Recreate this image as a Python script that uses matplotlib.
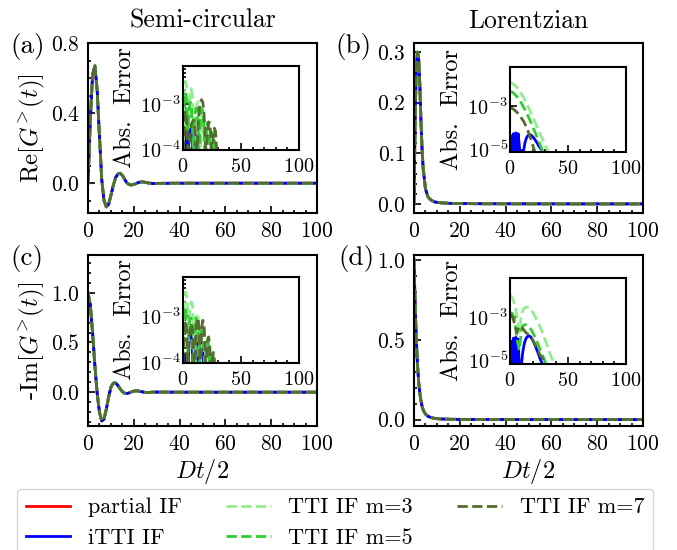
import matplotlib
matplotlib.use('Agg')
import matplotlib.pyplot as plt
from matplotlib.ticker import AutoMinorLocator, MultipleLocator, FixedLocator, NullLocator
import numpy as np

plt.rcParams['font.family'] = ['cmr10', 'DejaVu Serif']
plt.rcParams['mathtext.fontset'] = 'cm'
plt.rcParams['axes.formatter.use_mathtext'] = True
plt.rcParams['axes.unicode_minus'] = False

# ---------------- data: main curves ----------------
t_sc = [0, 1, 2, 3, 4, 5, 6, 7, 8, 9, 10, 11, 12, 13, 14, 15, 16, 17, 18, 19, 20,
        21, 22, 23, 24, 25, 26, 27, 28, 29, 30, 40, 50, 60, 70, 80, 90, 100]
re_sc = [0.0, 0.36, 0.62, 0.67, 0.53, 0.27, 0.02, -0.10, -0.135, -0.12, -0.07, -0.015,
         0.03, 0.052, 0.057, 0.045, 0.022, 0.002, -0.008, -0.010, -0.007, -0.002, 0.004,
         0.007, 0.007, 0.005, 0.002, 0.0, -0.001, -0.002, -0.001, 0.0, 0.0, 0.0, 0.0, 0.0, 0.0, 0.0]
im_sc = [1.0, 0.88, 0.60, 0.27, -0.01, -0.20, -0.29, -0.27, -0.17, -0.05, 0.05, 0.09,
         0.095, 0.07, 0.035, 0.005, -0.010, -0.013, -0.007, 0.003, 0.011, 0.014, 0.012,
         0.007, 0.002, -0.002, -0.003, -0.002, 0.0, 0.001, 0.001, 0.0, 0.0, 0.0, 0.0, 0.0, 0.0, 0.0]

t_lz = [0, 0.5, 1, 1.5, 2, 2.5, 3, 3.5, 4, 5, 6, 7, 8, 9, 10, 12, 14, 16, 20, 30, 40, 60, 80, 100]
re_lz = [0.0, 0.17, 0.27, 0.30, 0.29, 0.24, 0.17, 0.11, 0.07, 0.03, 0.015, 0.009, 0.006,
         0.004, 0.003, 0.002, 0.0015, 0.001, 0.0007, 0.0003, 0.0002, 0.0001, 0.0, 0.0]
im_lz = [1.0, 0.72, 0.50, 0.35, 0.24, 0.17, 0.12, 0.085, 0.06, 0.035, 0.022, 0.015, 0.011,
         0.008, 0.006, 0.004, 0.003, 0.002, 0.0015, 0.001, 0.0007, 0.0004, 0.0003, 0.0002]

# ---------------- data: absolute errors (insets) ----------------
te_sc = list(range(0, 33))
err_a = {
    'iTTI IF': [1e-5, 1.5e-4, 2.5e-4, 1.5e-4, 3e-5, 1.8e-4, 3.5e-4, 3e-4, 1.2e-4, 2e-5, 1.2e-4,
                2e-4, 1.5e-4, 4e-5, 1e-5, 5e-5, 9e-5, 7e-5, 2e-5, 1e-5, 1e-5, 1e-5, 1e-5, 1e-5,
                1e-5, 1e-5, 1e-5, 1e-5, 1e-5, 1e-5, 1e-5, 1e-5, 1e-5],
    'TTI IF m=3': [3e-5, 2.0e-3, 3.2e-3, 2.6e-3, 1.0e-3, 3e-4, 1.4e-3, 2.2e-3, 1.6e-3, 5e-4, 6e-5,
                   5e-4, 1.0e-3, 1.1e-3, 6e-4, 1e-4, 3e-4, 5.5e-4, 4.5e-4, 1.5e-4, 3e-5, 2e-4,
                   3.2e-4, 2.6e-4, 1e-4, 2e-5, 1.2e-4, 1.6e-4, 1.2e-4, 4e-5, 1e-5, 1e-5, 1e-5],
    'TTI IF m=5': [2e-5, 1.0e-3, 1.8e-3, 1.2e-3, 2.5e-4, 5e-4, 1.1e-3, 1.0e-3, 4e-4, 5e-5, 4e-4,
                   8e-4, 8e-4, 3.5e-4, 4e-5, 4.5e-4, 8e-4, 7e-4, 3e-4, 3e-5, 2e-4, 3.8e-4,
                   3.5e-4, 1.5e-4, 2e-5, 1.4e-4, 2.4e-4, 2e-4, 8e-5, 1e-5, 1e-5, 1e-5, 1e-5],
    'TTI IF m=7': [2e-5, 4e-4, 7e-4, 5e-4, 1.2e-4, 2e-5, 1.6e-4, 3.2e-4, 4e-4, 4.4e-4, 3.4e-4,
                   1.5e-4, 3e-5, 3e-4, 8e-4, 1.1e-3, 1.25e-3, 1.1e-3, 7e-4, 2e-4, 3e-5, 2.6e-4,
                   4e-4, 3.8e-4, 2e-4, 3e-5, 1.8e-4, 2.9e-4, 2.5e-4, 1e-4, 2e-5, 1e-5, 1e-5],
}
err_c = {
    'iTTI IF': [1e-5, 1e-4, 1.5e-4, 1e-4, 2e-5, 2.5e-4, 5e-4, 4.5e-4, 2e-4, 2e-5, 2.5e-4,
                4.5e-4, 3.5e-4, 1e-4, 1e-5, 1.5e-4, 2.5e-4, 2e-4, 6e-5, 1e-5, 1e-5, 1e-5, 1e-5,
                1e-5, 1e-5, 1e-5, 1e-5, 1e-5, 1e-5, 1e-5, 1e-5, 1e-5, 1e-5],
    'TTI IF m=3': [3e-4, 2.4e-3, 3.3e-3, 2.8e-3, 1.5e-3, 2e-4, 1.2e-3, 2.0e-3, 1.8e-3, 8e-4, 5e-5,
                   6e-4, 1.0e-3, 9e-4, 3e-4, 1e-4, 5e-4, 6e-4, 3.5e-4, 5e-5, 2.2e-4, 3.5e-4,
                   2.5e-4, 6e-5, 8e-5, 1.8e-4, 1.8e-4, 8e-5, 2e-5, 6e-5, 7e-5, 3e-5, 1e-5],
    'TTI IF m=5': [2e-4, 1.2e-3, 1.6e-3, 1.0e-3, 1.5e-4, 4e-4, 9e-4, 9e-4, 4e-4, 4e-5, 5e-4,
                   9e-4, 8e-4, 3e-4, 4e-5, 4e-4, 6e-4, 5e-4, 2e-4, 3e-5, 2e-4, 3e-4, 2.2e-4,
                   6e-5, 6e-5, 1.5e-4, 1.5e-4, 6e-5, 1e-5, 1e-5, 1e-5, 1e-5, 1e-5],
    'TTI IF m=7': [1e-4, 6e-4, 8e-4, 5e-4, 8e-5, 2e-4, 5e-4, 7e-4, 6e-4, 2e-4, 3e-5, 4e-4,
                   8e-4, 9e-4, 5e-4, 5e-5, 5e-4, 8e-4, 7e-4, 2.5e-4, 3e-5, 2.5e-4, 3.5e-4,
                   2.5e-4, 5e-5, 1e-4, 1.6e-4, 1.2e-4, 3e-5, 1e-5, 1e-5, 1e-5, 1e-5],
}

te_lz = [0, 2, 4, 6, 8, 10, 12, 14, 16, 18, 20, 22, 24, 26, 28, 30, 32, 34, 36, 38, 40]
te_lz_b = list(range(0, 31))
err_b = {
    'iTTI IF': [2e-6, 4e-5, 2e-6, 5e-5, 3e-6, 5.5e-5, 4e-6, 5e-5, 1.5e-5, 3e-6, 3e-6, 5e-6,
                1e-5, 2e-5, 3e-5, 3.8e-5, 4.3e-5, 4.5e-5, 4.3e-5, 3.9e-5, 3.4e-5, 2.9e-5,
                2.4e-5, 2e-5, 1.6e-5, 1.3e-5, 1.1e-5, 9e-6, 7e-6, 5e-6, 4e-6],
    'TTI IF m=3': [1.26e-2, 1.12e-2, 9.3e-3, 7.2e-3, 5e-3, 3.5e-3, 2.3e-3, 1.4e-3, 8.3e-4,
                   4.7e-4, 2.7e-4, 1.5e-4, 8.7e-5, 5e-5, 2.8e-5, 1.6e-5, 9e-6, 5e-6, 3e-6, 2e-6, 1e-6],
    'TTI IF m=5': [4.7e-3, 4.4e-3, 3.5e-3, 2.7e-3, 1.9e-3, 1.3e-3, 8.1e-4, 5e-4, 3e-4, 1.7e-4,
                   9.5e-5, 5.2e-5, 2.8e-5, 1.5e-5, 8e-6, 4e-6, 2e-6, 1e-6, 1e-6, 1e-6, 1e-6],
    'TTI IF m=7': [7.9e-4, 7.6e-4, 6.3e-4, 5e-4, 3.8e-4, 2.6e-4, 1.8e-4, 1.05e-4, 5.6e-5,
                   2.8e-5, 1.26e-5, 5.6e-6, 2e-6, 1e-6, 1e-6, 1e-6, 1e-6, 1e-6, 1e-6, 1e-6, 1e-6],
}
err_d = {
    'iTTI IF': [2e-6, 8e-5, 2e-6, 1.1e-4, 3e-6, 1.2e-4, 5e-6, 1e-4, 5e-6, 2e-6, 8e-6, 2.5e-5,
                5e-5, 8e-5, 1.1e-4, 1.3e-4, 1.4e-4, 1.35e-4, 1.2e-4, 1e-4, 8e-5, 6e-5, 4.5e-5,
                3.3e-5, 2.4e-5, 1.7e-5, 1.2e-5, 9e-6, 7e-6, 5e-6, 4e-6],
    'TTI IF m=3': [1.1e-2, 8e-3, 4e-3, 1.2e-3, 2e-4, 1.5e-3, 2.6e-3, 3e-3, 2.8e-3, 2.2e-3,
                   1.6e-3, 1e-3, 6e-4, 3.5e-4, 2e-4, 1e-4, 5e-5, 2.5e-5, 1.3e-5, 7e-6, 3e-6],
    'TTI IF m=5': [1.6e-3, 1.5e-3, 8e-4, 1e-4, 3e-5, 3e-4, 4.5e-4, 4.5e-4, 3.8e-4, 2.8e-4,
                   1.8e-4, 1.1e-4, 6e-5, 3.3e-5, 1.8e-5, 1e-5, 5e-6, 2e-6, 1e-6, 1e-6, 1e-6],
    'TTI IF m=7': [1.4e-3, 1.1e-3, 5e-4, 2e-4, 4e-4, 3.5e-4, 2.6e-4, 1.9e-4, 1.6e-4, 1.2e-4,
                   8e-5, 5e-5, 3e-5, 1.8e-5, 1.3e-5, 1e-5, 6e-6, 3e-6, 1e-6, 1e-6, 1e-6],
}

lz_err_ticks = [1e-7, 1e-5, 1e-3, 1e-1]

methods = ['partial IF', 'iTTI IF', 'TTI IF m=3', 'TTI IF m=5', 'TTI IF m=7']
colors = {'partial IF': '#ff0000', 'iTTI IF': '#0000ff', 'TTI IF m=3': '#90ee90',
          'TTI IF m=5': '#32cd32', 'TTI IF m=7': '#556b2f'}
styles = {'partial IF': '-', 'iTTI IF': '-', 'TTI IF m=3': '--', 'TTI IF m=5': '--',
          'TTI IF m=7': '--'}

W, H = 677, 550
fig = plt.figure(figsize=(W / 100, H / 100), dpi=100)


def px(x0, y0, x1, y1):
    return [x0 / W, 1 - y1 / H, (x1 - x0) / W, (y1 - y0) / H]


def style_main(ax, ylim, major):
    ax.set_xlim(0, 100)
    ax.set_ylim(*ylim)
    ax.xaxis.set_major_locator(MultipleLocator(20))
    ax.yaxis.set_major_locator(MultipleLocator(major))
    ax.xaxis.set_minor_locator(AutoMinorLocator())
    ax.yaxis.set_minor_locator(AutoMinorLocator())
    ax.tick_params(which='both', direction='in', labelsize=15.5, width=1.2)
    ax.tick_params(which='major', length=5, pad=6)
    ax.tick_params(which='minor', length=2.5)
    for s in ax.spines.values():
        s.set_linewidth(1.5)


def style_inset(ax, ylim, fixed=None):
    ax.set_xlim(0, 100)
    ax.set_yscale('log')
    ax.set_ylim(*ylim)
    if fixed is not None:
        ax.yaxis.set_major_locator(FixedLocator(fixed))
        ax.yaxis.set_minor_locator(NullLocator())
    ax.xaxis.set_major_locator(MultipleLocator(50))
    ax.xaxis.set_minor_locator(AutoMinorLocator())
    ax.tick_params(which='both', direction='in', labelsize=14.5, width=1.2)
    ax.tick_params(axis='x', which='major', length=5, pad=5.5)
    ax.tick_params(axis='y', which='major', length=5, pad=1.5)
    ax.tick_params(which='minor', length=2.5)
    ax.set_ylabel('Abs.  Error', fontsize=17.5, labelpad=3)
    for s in ax.spines.values():
        s.set_linewidth(1.5)


panels = [
    ('a', px(88, 43, 317, 213), t_sc, re_sc, (-0.17, 0.8), 0.4),
    ('b', px(414, 43, 643, 213), t_lz, re_lz, (-0.018, 0.318), 0.1),
    ('c', px(88, 255, 317, 426), t_sc, im_sc, (-0.34, 1.38), 0.5),
    ('d', px(414, 255, 643, 426), t_lz, im_lz, (-0.04, 1.03), 0.5),
]
axes = {}
handles = []
for key, pos, t, y, ylim, major in panels:
    ax = fig.add_axes(pos)
    for m in methods:
        h, = ax.plot(t, y, color=colors[m], ls=styles[m], lw=2, label=m)
        if key == 'a':
            handles.append(h)
    style_main(ax, ylim, major)
    axes[key] = ax

axes['a'].set_ylabel(r'Re$[G^{\!>\!}(t)]$', fontsize=18, labelpad=2)
axes['c'].set_ylabel(r'-Im$[G^{\!>\!}(t)]$', fontsize=18, labelpad=2)
axes['c'].set_xlabel(r'$Dt/2$', fontsize=17.5, labelpad=2)
axes['d'].set_xlabel(r'$Dt/2$', fontsize=17.5, labelpad=2)
axes['a'].set_title('Semi-circular', fontsize=18.5, pad=11)
axes['b'].set_title('Lorentzian', fontsize=18.5, pad=11)

insets = [
    (px(183, 66, 299, 150), te_sc, err_a, None, (9.5e-5, 7e-3), None),
    (px(510, 67, 626, 152), te_lz, err_b, te_lz_b, (7e-6, 6.5e-2), lz_err_ticks),
    (px(183, 277, 299, 363), te_sc, err_c, None, (9.5e-5, 7e-3), None),
    (px(510, 278, 626, 364), te_lz, err_d, te_lz_b, (7e-6, 6.5e-2), lz_err_ticks),
]
for pos, te, err, te_blue, ylim, fixed in insets:
    ia = fig.add_axes(pos)
    for m in methods[1:]:
        tt = te_blue if (m == 'iTTI IF' and te_blue is not None) else te
        ia.plot(tt, err[m], color=colors[m], ls=styles[m], lw=2)
    style_inset(ia, ylim, fixed)

for lbl, x, y in [('(a)', 10, 47), ('(b)', 335, 47), ('(c)', 10, 259), ('(d)', 338, 259)]:
    fig.text(x / W, 1 - y / H, lbl, fontsize=19.5, ha='left', va='center')

fig.legend(handles=handles, labels=methods, loc='upper center',
           bbox_to_anchor=(335 / W, 1 - 489 / H), ncol=3, fontsize=16,
           frameon=True, fancybox=True, edgecolor='#cccccc', borderaxespad=0,
           handlelength=2.0, columnspacing=2.0)

fig.savefig('out.png', dpi=100)
